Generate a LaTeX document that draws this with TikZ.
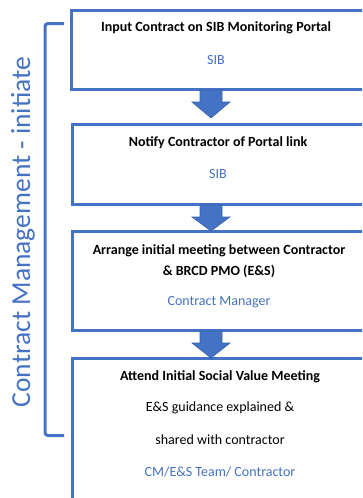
\documentclass[tikz,border=0pt]{standalone}
\usepackage{fontspec}
\setmainfont{Carlito}
\definecolor{obl}{HTML}{4472C4}
\definecolor{obd}{HTML}{3A62AA}
\begin{document}
\begin{tikzpicture}[x=1pt,y=-1pt,
  stepbox/.style={draw=obl,line width=3pt},
  ttl/.style={font=\fontsize{14}{16}\selectfont\bfseries,text=black,align=center},
  who/.style={font=\fontsize{14}{16}\selectfont,text=obl},
  body/.style={font=\fontsize{14}{16}\selectfont,text=black},
  flow/.style={fill=obl,draw=obd,line width=0.6pt}]
\useasboundingbox (0,0) rectangle (362,498);
\clip (0,0) rectangle (362,498);
% boxes
\draw[stepbox] (71,10) rectangle (375,89);
\draw[stepbox] (72,124) rectangle (375,204);
\draw[stepbox] (72,231) rectangle (375,330);
\draw[stepbox] (72,358) rectangle (375,520);
% arrows
\foreach \s/\e in {90/118,205/231,331/358}{
  \draw[flow] (200,\s) -- (222,\s) -- (222,\s+12) -- (230,\s+12) -- (211,\e) -- (192,\s+12) -- (200,\s+12) -- cycle;
}
% texts
\node[ttl] (t1) at (216,28) {Input Contract on SIB Monitoring Portal};
\node[who] (w1) at (216,60) {SIB};
\node[ttl] (t2) at (218,143) {Notify Contractor of Portal link};
\node[who] (w2) at (218,174) {SIB};
\node[ttl] (t3a) at (219,251) {Arrange initial meeting between Contractor};
\node[ttl] (t3b) at (219,271) {\& BRCD PMO (E\&S)};
\node[who] (w3) at (219,302) {Contract Manager};
\node[ttl] (t4) at (220,377) {Attend Initial Social Value Meeting};
\node[body] (d4a) at (220,408) {E\&S guidance explained \&};
\node[body] (d4b) at (220,440) {shared with contractor};
\node[who] (w4) at (220,472) {CM/E\&S Team/ Contractor};
% bracket
\coordinate (bt) at (64,23.5);
\coordinate (bb) at (64,435.5);
\draw[obl,line width=3pt,rounded corners=3pt] (bt) -| (45,435.5) -- (bb);
\node[rotate=90,text=obl,font=\fontsize{27.5}{30}\selectfont] (lab) at (23,232) {Contract Management - initiate};
\end{tikzpicture}
\end{document}
